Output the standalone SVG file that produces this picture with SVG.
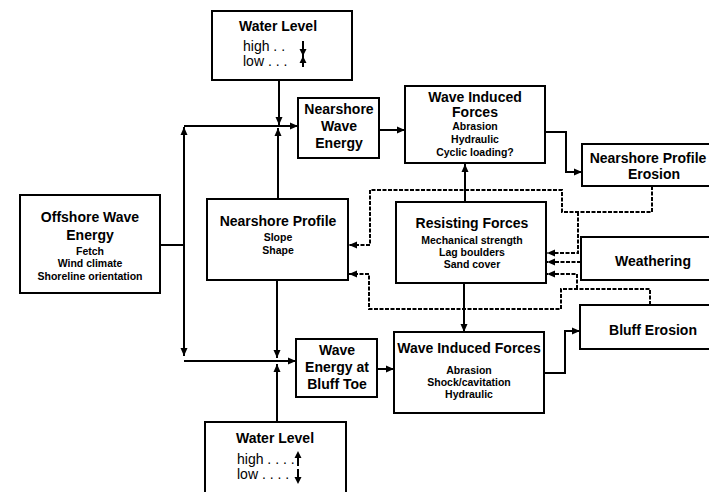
<svg xmlns="http://www.w3.org/2000/svg" width="709" height="492" viewBox="0 0 709 492">
<defs>
<style>
.box{fill:#fff;stroke:#000;stroke-width:2}
.t{font-family:"Liberation Sans",Arial,Helvetica,sans-serif;font-weight:bold;font-size:14px;text-anchor:middle;fill:#000}
.s{font-family:"Liberation Sans",Arial,Helvetica,sans-serif;font-weight:bold;font-size:10.5px;text-anchor:middle;fill:#000}
.w{font-family:"Liberation Sans",Arial,Helvetica,sans-serif;font-size:14px;fill:#000}
.c{fill:none;stroke:#000;stroke-width:2;marker-end:url(#ah)}
.d{fill:none;stroke:#000;stroke-width:2;stroke-dasharray:4 1.5;marker-end:url(#ah)}
.n{fill:none;stroke:#000;stroke-width:2}
</style>
<marker id="ah" markerUnits="userSpaceOnUse" markerWidth="9" markerHeight="8" refX="8" refY="4" orient="auto">
<path d="M0,0.5 L8,4 L0,7.5 z" fill="#000"/>
</marker>
</defs>
<rect width="709" height="492" fill="#fff"/>

<g id="connectors">
<path class="c" d="M279,80 V125"/>
<path class="c" d="M278,199 V128"/>
<path class="c" d="M184,126 H298"/>
<path class="n" d="M160,245 H184"/>
<path class="c" d="M184,245 V127"/>
<path class="c" d="M184,245 V356"/>
<path class="c" d="M277,280 V358"/>
<path class="c" d="M277,422 V364"/>
<path class="c" d="M184,361 H296"/>
<path class="c" d="M379,130 H405"/>
<path class="c" d="M545,132 H566 V172 H582"/>
<path class="c" d="M465,202 V164"/>
<path class="c" d="M464,283 V332"/>
<path class="c" d="M377,369 H394"/>
<path class="c" d="M543,373 H565 V331 H580"/>
<path class="d" d="M652,186 V212 H562 V190 H370 V245 H349"/>
<path class="d" d="M578,212 V253 H547"/>
<path class="d" d="M581,262 H547"/>
<path class="d" d="M650,305 V289 H561 V309 H369 V274 H349"/>
<path class="d" d="M577,289 V274 H547"/>
</g>

<g id="water-level-top">
<rect class="box" x="212" y="11" width="140" height="69"/>
<text class="t" x="278" y="31">Water Level</text>
<text class="w" x="243" y="51">high . .</text>
<text class="w" x="243" y="66">low . . .</text>
<path class="n" d="M303,41 V67" stroke-width="1.5"/>
<path d="M299.5,49 L303,56 L306.5,49 z M299.5,63 L303,56 L306.5,63 z" fill="#000"/>
</g>

<g id="nearshore-wave-energy">
<rect class="box" x="298" y="98" width="81" height="60"/>
<text class="t" x="339" y="114">Nearshore</text>
<text class="t" x="339" y="131">Wave</text>
<text class="t" x="339" y="148">Energy</text>
</g>

<g id="wave-induced-forces-top">
<rect class="box" x="405" y="86" width="140" height="77"/>
<text class="t" x="475" y="102">Wave Induced</text>
<text class="t" x="475" y="117">Forces</text>
<text class="s" x="475" y="130">Abrasion</text>
<text class="s" x="475" y="143">Hydraulic</text>
<text class="s" x="475" y="156">Cyclic loading?</text>
</g>

<g id="nearshore-profile-erosion">
<rect class="box" x="582" y="144" width="150" height="42"/>
<text class="t" x="648" y="163">Nearshore Profile</text>
<text class="t" x="654" y="179">Erosion</text>
</g>

<g id="offshore-wave-energy">
<rect class="box" x="20" y="195" width="140" height="98"/>
<text class="t" x="90" y="222">Offshore Wave</text>
<text class="t" x="90" y="240">Energy</text>
<text class="s" x="90" y="255">Fetch</text>
<text class="s" x="90" y="267">Wind climate</text>
<text class="s" x="90" y="280">Shoreline orientation</text>
</g>

<g id="nearshore-profile">
<rect class="box" x="207" y="199" width="141" height="81"/>
<text class="t" x="278" y="226">Nearshore Profile</text>
<text class="s" x="278" y="241">Slope</text>
<text class="s" x="278" y="254">Shape</text>
</g>

<g id="resisting-forces">
<rect class="box" x="396" y="202" width="150" height="81"/>
<text class="t" x="472" y="228">Resisting Forces</text>
<text class="s" x="472" y="244">Mechanical strength</text>
<text class="s" x="472" y="256">Lag boulders</text>
<text class="s" x="472" y="268">Sand cover</text>
</g>

<g id="weathering">
<rect class="box" x="581" y="237" width="150" height="43"/>
<text class="t" x="653" y="266">Weathering</text>
</g>

<g id="bluff-erosion">
<rect class="box" x="580" y="305" width="150" height="44"/>
<text class="t" x="653" y="335">Bluff Erosion</text>
</g>

<g id="wave-energy-bluff-toe">
<rect class="box" x="296" y="339" width="81" height="58"/>
<text class="t" x="337" y="355">Wave</text>
<text class="t" x="337" y="372">Energy at</text>
<text class="t" x="337" y="389">Bluff Toe</text>
</g>

<g id="wave-induced-forces-bottom">
<rect class="box" x="394" y="332" width="150" height="81"/>
<text class="t" x="469" y="353">Wave Induced Forces</text>
<text class="s" x="469" y="374">Abrasion</text>
<text class="s" x="469" y="386">Shock/cavitation</text>
<text class="s" x="469" y="398">Hydraulic</text>
</g>

<g id="water-level-bottom">
<rect class="box" x="205" y="422" width="141" height="80"/>
<text class="t" x="275" y="443">Water Level</text>
<text class="w" x="237" y="464">high . . . .</text>
<text class="w" x="237" y="479">low . . . .</text>
<path class="n" d="M298,455 V466 M298,469 V480" stroke-width="1.5"/>
<path d="M294.5,458 L298,451 L301.5,458 z M294.5,477 L298,484 L301.5,477 z" fill="#000"/>
</g>
</svg>
